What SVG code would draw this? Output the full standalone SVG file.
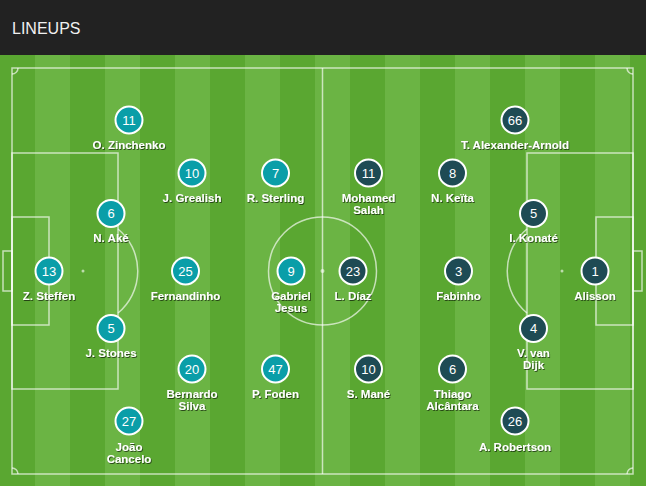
<svg xmlns="http://www.w3.org/2000/svg" width="646" height="486" viewBox="0 0 646 486">
<defs>
<style>
.ln{fill:none;stroke:#ffffff;stroke-opacity:0.65;stroke-width:1.5}
.dk{fill:#5aa731}
.lt{fill:#6bb444}
.mci{fill:#0a9ea8;stroke:#fff;stroke-width:2}
.lfc{fill:#1e4b54;stroke:#fff;stroke-width:2}
.num{font-family:"Liberation Sans",Arial,sans-serif;font-size:13px;fill:#fff;text-anchor:middle}
.lab{font-family:"Liberation Sans",Arial,sans-serif;font-size:11.5px;font-weight:bold;fill:#fff;text-anchor:middle;filter:url(#sh)}
</style>
<filter id="sh" x="-20%" y="-50%" width="140%" height="200%">
<feDropShadow dx="0.8" dy="1" stdDeviation="0.7" flood-color="#000" flood-opacity="0.6"/>
</filter>
</defs>
<rect x="0" y="0" width="646" height="55" fill="#222222"/>
<text x="12" y="34" font-family="'Liberation Sans',Arial,sans-serif" font-size="16" fill="#f0f0f0">LINEUPS</text>
<g id="pitch">
<rect class="dk" x="0" y="55" width="646" height="431"/>
<rect class="lt" x="35" y="55" width="35" height="431"/>
<rect class="lt" x="105" y="55" width="35" height="431"/>
<rect class="lt" x="175" y="55" width="35" height="431"/>
<rect class="lt" x="245" y="55" width="35" height="431"/>
<rect class="lt" x="315" y="55" width="35" height="431"/>
<rect class="lt" x="385" y="55" width="35" height="431"/>
<rect class="lt" x="455" y="55" width="35" height="431"/>
<rect class="lt" x="525" y="55" width="35" height="431"/>
<rect class="lt" x="595" y="55" width="35" height="431"/>
<rect class="ln" x="12" y="68" width="621" height="406"/>
<line class="ln" x1="322.5" y1="68" x2="322.5" y2="474"/>
<circle class="ln" cx="322.5" cy="271" r="54"/>
<circle cx="322.5" cy="271" r="2" fill="#fff" fill-opacity="0.6"/>
<rect class="ln" x="12" y="153" width="106" height="236"/>
<rect class="ln" x="12" y="217" width="37" height="108"/>
<rect class="ln" x="3" y="251" width="9" height="40"/>
<circle cx="83" cy="271" r="1.5" fill="#fff" fill-opacity="0.6"/>
<path class="ln" d="M118 229 A54.5 54.5 0 0 1 118 313"/>
<rect class="ln" x="527" y="153" width="106" height="236"/>
<rect class="ln" x="596" y="217" width="37" height="108"/>
<rect class="ln" x="633" y="251" width="9" height="40"/>
<circle cx="562" cy="271" r="1.5" fill="#fff" fill-opacity="0.6"/>
<path class="ln" d="M527 229 A54.5 54.5 0 0 0 527 313"/>
<path class="ln" d="M12 74 A6 6 0 0 0 18 68"/>
<path class="ln" d="M627 68 A6 6 0 0 0 633 74"/>
<path class="ln" d="M12 468 A6 6 0 0 1 18 474"/>
<path class="ln" d="M627 474 A6 6 0 0 1 633 468"/>
</g>
<g id="connectors"></g>
<g id="p-steffen"><circle class="mci" cx="49" cy="271" r="13.5"/><text class="num" x="49" y="275.5">13</text><text class="lab" x="49" y="300">Z. Steffen</text></g>
<g id="p-ake"><circle class="mci" cx="111" cy="213.5" r="13.5"/><text class="num" x="111" y="218">6</text><text class="lab" x="111" y="242.3">N. Aké</text></g>
<g id="p-stones"><circle class="mci" cx="111" cy="328.5" r="13.5"/><text class="num" x="111" y="333">5</text><text class="lab" x="111" y="357">J. Stones</text></g>
<g id="p-zinchenko"><circle class="mci" cx="129" cy="120" r="13.5"/><text class="num" x="129" y="124.5">11</text><text class="lab" x="129" y="148.5">O. Zinchenko</text></g>
<g id="p-cancelo"><circle class="mci" cx="129" cy="421" r="13.5"/><text class="num" x="129" y="425.5">27</text><text class="lab" x="129" y="451">João</text><text class="lab" x="129" y="463">Cancelo</text></g>
<g id="p-grealish"><circle class="mci" cx="192" cy="173" r="13.5"/><text class="num" x="192" y="177.5">10</text><text class="lab" x="192" y="202">J. Grealish</text></g>
<g id="p-fernandinho"><circle class="mci" cx="185.5" cy="271" r="13.5"/><text class="num" x="185.5" y="275.5">25</text><text class="lab" x="185.5" y="300">Fernandinho</text></g>
<g id="p-bernardo"><circle class="mci" cx="192" cy="369" r="13.5"/><text class="num" x="192" y="373.5">20</text><text class="lab" x="192" y="398.3">Bernardo</text><text class="lab" x="192" y="410.3">Silva</text></g>
<g id="p-sterling"><circle class="mci" cx="275.5" cy="173" r="13.5"/><text class="num" x="275.5" y="177.5">7</text><text class="lab" x="275.5" y="202">R. Sterling</text></g>
<g id="p-jesus"><circle class="mci" cx="291" cy="271" r="13.5"/><text class="num" x="291" y="275.5">9</text><text class="lab" x="291" y="300">Gabriel</text><text class="lab" x="291" y="312">Jesus</text></g>
<g id="p-foden"><circle class="mci" cx="275.5" cy="369" r="13.5"/><text class="num" x="275.5" y="373.5">47</text><text class="lab" x="275.5" y="398.3">P. Foden</text></g>
<g id="p-alisson"><circle class="lfc" cx="595" cy="271" r="13.5"/><text class="num" x="595" y="275.5">1</text><text class="lab" x="595" y="300">Alisson</text></g>
<g id="p-konate"><circle class="lfc" cx="533.5" cy="213.5" r="13.5"/><text class="num" x="533.5" y="218">5</text><text class="lab" x="533.5" y="242.3">I. Konaté</text></g>
<g id="p-vandijk"><circle class="lfc" cx="533.5" cy="328.5" r="13.5"/><text class="num" x="533.5" y="333">4</text><text class="lab" x="533.5" y="357">V. van</text><text class="lab" x="533.5" y="369">Dijk</text></g>
<g id="p-taa"><circle class="lfc" cx="515" cy="120" r="13.5"/><text class="num" x="515" y="124.5">66</text><text class="lab" x="515" y="148.5">T. Alexander-Arnold</text></g>
<g id="p-robertson"><circle class="lfc" cx="515" cy="421" r="13.5"/><text class="num" x="515" y="425.5">26</text><text class="lab" x="515" y="451">A. Robertson</text></g>
<g id="p-keita"><circle class="lfc" cx="452.5" cy="173" r="13.5"/><text class="num" x="452.5" y="177.5">8</text><text class="lab" x="452.5" y="202">N. Keïta</text></g>
<g id="p-fabinho"><circle class="lfc" cx="458.5" cy="271" r="13.5"/><text class="num" x="458.5" y="275.5">3</text><text class="lab" x="458.5" y="300">Fabinho</text></g>
<g id="p-thiago"><circle class="lfc" cx="452.5" cy="369" r="13.5"/><text class="num" x="452.5" y="373.5">6</text><text class="lab" x="452.5" y="398.3">Thiago</text><text class="lab" x="452.5" y="410.3">Alcântara</text></g>
<g id="p-salah"><circle class="lfc" cx="368.5" cy="173" r="13.5"/><text class="num" x="368.5" y="177.5">11</text><text class="lab" x="368.5" y="202">Mohamed</text><text class="lab" x="368.5" y="214">Salah</text></g>
<g id="p-diaz"><circle class="lfc" cx="353" cy="271" r="13.5"/><text class="num" x="353" y="275.5">23</text><text class="lab" x="353" y="300">L. Díaz</text></g>
<g id="p-mane"><circle class="lfc" cx="368.5" cy="369" r="13.5"/><text class="num" x="368.5" y="373.5">10</text><text class="lab" x="368.5" y="398.3">S. Mané</text></g>
</svg>
